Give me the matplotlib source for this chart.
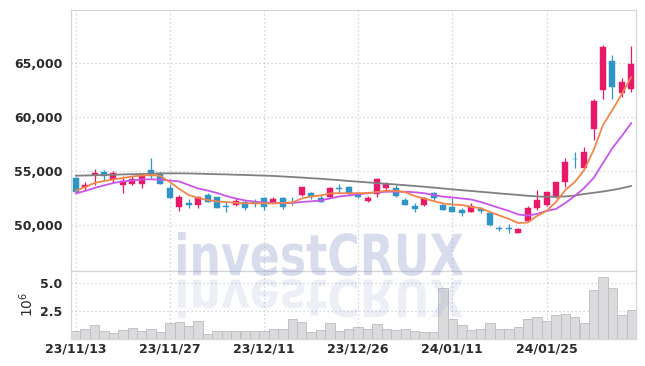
import matplotlib
matplotlib.use('Agg')
import matplotlib.pyplot as plt
import numpy as np
from matplotlib.textpath import TextPath
from matplotlib.patches import PathPatch
from matplotlib.font_manager import FontProperties
from matplotlib.transforms import Affine2D
from matplotlib.ticker import FuncFormatter, FixedLocator

# ---------------- data ----------------
tick_idx = [0, 10, 20, 30, 40, 50]
tick_labels = ['23/11/13', '23/11/27', '23/12/11', '23/12/26', '24/01/11', '24/01/25']

opens = [54360, 53520, 54600, 54870, 54260, 53660, 53820, 53770, 55120, 54840,
         53400, 51690, 52040, 51850, 52780, 52590, 51760, 51850, 52160, 52130,
         52470, 52160, 52470, 52160, 52780, 52930, 52470, 52620, 53400, 53550,
         53000, 52220, 52840, 53450, 53400, 52310, 51790, 51850, 52930, 51850,
         51690, 51390, 51170, 51450, 51080, 49700, 49700, 49260, 50370, 51570,
         51850, 52620, 54010, 56140, 55250, 58860, 62500, 65160, 62250, 62590]
highs = [54400, 53950, 55160, 55060, 55030, 54560, 54510, 54750, 56230, 54900,
         53770, 52780, 52410, 52720, 53000, 52620, 52160, 52530, 52290, 52410,
         52620, 52620, 52620, 52620, 53550, 53030, 52780, 53550, 53770, 53650,
         53090, 52720, 54330, 53950, 53700, 52530, 52010, 52620, 53030, 51900,
         52470, 51600, 52070, 51690, 51200, 49950, 50100, 49700, 51760, 53240,
         53050, 53980, 56180, 56790, 57190, 61640, 66670, 65740, 63580, 66570]
lows = [52980, 53270, 53700, 54070, 54010, 52960, 53700, 53450, 54330, 53820,
        52470, 51300, 51550, 51550, 52100, 51600, 51170, 51780, 51390, 51670,
        51390, 51990, 51480, 51850, 52720, 52380, 52100, 52530, 52930, 52800,
        52470, 52160, 52620, 53150, 52620, 51850, 51230, 51780, 52310, 51390,
        51170, 50830, 51170, 51080, 49930, 49400, 49250, 49260, 50300, 51390,
        51760, 52470, 53550, 55250, 55250, 57870, 61640, 61640, 61820, 62290]
closes = [53020, 53730, 54810, 54510, 54840, 54100, 54260, 54630, 54540, 53820,
          52530, 52590, 51850, 52590, 52100, 51600, 51640, 52220, 51550, 51940,
          51690, 52380, 51640, 52060, 53490, 52560, 52160, 53400, 53300, 52930,
          52590, 52530, 54260, 53770, 52710, 51850, 51450, 52470, 52530, 51390,
          51170, 51140, 51760, 51320, 50000, 49630, 49630, 49630, 51570, 52310,
          53050, 54010, 55830, 56080, 56760, 61480, 66510, 62810, 63240, 64910]

ma5 = [53150, 53520, 53890, 54070, 54210, 54350, 54490, 54580, 54630, 54540,
       53980, 53330, 52780, 52500, 52310, 52180, 52130, 52040, 52010, 52010,
       52010, 51990, 52040, 52080, 52450, 52640, 52730, 52920, 52940, 52940,
       52940, 52960, 53050, 53170, 53170, 53030, 52680, 52450, 52220, 51990,
       51900, 51850, 51670, 51550, 51200, 50880, 50560, 50180, 50230, 50830,
       51300, 52130, 53240, 53980, 55090, 56940, 59260, 60650, 62130, 63700]
ma10 = [52920, 53150, 53430, 53660, 53890, 54030, 54120, 54210, 54230, 54190,
        54120, 54030, 53700, 53380, 53190, 52960, 52680, 52450, 52270, 52160,
        52080, 52040, 52010, 52040, 52130, 52190, 52270, 52450, 52640, 52730,
        52840, 52940, 53010, 53080, 53080, 53080, 53030, 52940, 52780, 52620,
        52550, 52450, 52360, 52130, 51850, 51570, 51300, 50970, 50880, 51020,
        51300, 51480, 52040, 52680, 53430, 54350, 55740, 57130, 58240, 59440]
ma60 = [54560, 54580, 54600, 54630, 54650, 54680, 54700, 54720, 54750, 54770,
        54780, 54780, 54770, 54750, 54720, 54700, 54680, 54650, 54630, 54600,
        54570, 54540, 54490, 54440, 54390, 54330, 54280, 54210, 54150, 54070,
        54010, 53940, 53880, 53810, 53750, 53680, 53610, 53540, 53460, 53380,
        53300, 53220, 53150, 53070, 53000, 52920, 52850, 52780, 52700, 52640,
        52610, 52610, 52640, 52730, 52870, 52980, 53100, 53240, 53410, 53610]

volume_m = [0.64, 0.82, 1.18, 0.64, 0.52, 0.73, 0.97, 0.64, 0.88, 0.55,
            1.36, 1.45, 1.09, 1.55, 0.45, 0.64, 0.70, 0.70, 0.70, 0.64,
            0.64, 0.88, 0.88, 1.79, 1.45, 0.55, 0.73, 1.36, 0.70, 0.82,
            1.06, 0.82, 1.27, 0.82, 0.73, 0.82, 0.64, 0.55, 0.55, 4.60,
            1.73, 1.18, 0.73, 0.82, 1.36, 0.88, 0.88, 1.06, 1.79, 1.91,
            1.55, 2.09, 2.18, 1.91, 1.36, 4.36, 5.55, 4.60, 2.09, 2.55]

price_ticks = [50000, 55000, 60000, 65000]
volume_ticks = [2.5, 5.0]

# ---------------- style ----------------
UP = '#e8196a'
DOWN = '#2e95c6'
GRID = '#c6c9da'
SPINE = '#d6d6da'
TXT = '#2a2a2a'
tick_font = FontProperties(family=['Liberation Sans Narrow', 'DejaVu Sans'], weight='bold', size=9)

W, H = 645, 366
fig = plt.figure(figsize=(W / 100, H / 100), dpi=100)
fig.patch.set_facecolor('white')

L, R = 71, 636
ax = fig.add_axes([L / W, 1 - 271 / H, (R - L) / W, 261 / H])
axv = fig.add_axes([L / W, 1 - 338.5 / H, (R - L) / W, 67.5 / H], sharex=ax)

x = np.arange(len(closes))
o = np.array(opens, float)
c = np.array(closes, float)
hi = np.array(highs, float)
lo = np.array(lows, float)
up = c >= o
cols = np.where(up, UP, DOWN)
body_bottom = np.minimum(o, c)
body_h = np.maximum(np.abs(c - o), 45)

ax.vlines(x, lo, hi, colors=cols, linewidth=0.9, zorder=3)
ax.bar(x, body_h, bottom=body_bottom, width=0.64, color=cols, edgecolor=cols,
       linewidth=0.3, zorder=3)

ax.plot(x, ma60, color='#808080', lw=1.3, zorder=4, solid_capstyle='round')
ax.plot(x, ma10, color='#c955ea', lw=1.3, zorder=4, solid_capstyle='round')
ax.plot(x, ma5, color='#f0864b', lw=1.3, zorder=4, solid_capstyle='round')

ax.set_xlim(-0.5, len(x) - 0.5)
ax.set_ylim(45740, 69900)
ax.yaxis.set_major_locator(FixedLocator(price_ticks))
ax.yaxis.set_major_formatter(FuncFormatter(lambda v, p: f'{v:,.0f}'))
ax.xaxis.set_major_locator(FixedLocator(tick_idx))

axv.bar(x, volume_m, width=1.0, color='#dbdbdd', edgecolor='#bcbcc0', linewidth=0.6, zorder=2)
axv.set_ylim(0, 6.1)
axv.yaxis.set_major_locator(FixedLocator(volume_ticks))
axv.yaxis.set_major_formatter(FuncFormatter(lambda v, p: f'{v:.1f}'))
axv.set_xticks(tick_idx)
axv.set_xticklabels(tick_labels)
axv.set_ylabel(r'$10^6$', fontsize=10, color=TXT, labelpad=3)

for a in (ax, axv):
    a.set_facecolor('white')
    a.grid(True, color=GRID, linestyle=(0, (1, 2.2)), linewidth=0.9, zorder=0)
    a.set_axisbelow(True)
    for s in a.spines.values():
        s.set_color(SPINE)
        s.set_linewidth(0.9)
    a.tick_params(length=0, colors=TXT, pad=6)
    for lab in a.get_yticklabels() + a.get_xticklabels():
        lab.set_fontproperties(tick_font)
ax.tick_params(labelbottom=False)
axv.tick_params(axis='x', pad=3)

# ---------------- watermark ----------------
wm_prop = FontProperties(family='DejaVu Sans', weight='bold')
tp = TextPath((0, 0), 'investCRUX', prop=wm_prop, size=1)
ext = tp.get_extents()
x0p, x1p = 178, 463
base_px, top_px = H - 276, H - 232
sx = (x1p - x0p) / ext.width
sy = (top_px - base_px) / ext.height
main_tr = Affine2D().translate(-ext.x0, -ext.y0).scale(sx / W, sy / H).translate(x0p / W, base_px / H)
fig.add_artist(PathPatch(tp, transform=main_tr + fig.transFigure, facecolor='#8190c8',
                         edgecolor='none', alpha=0.30, zorder=6))
refl_tr = Affine2D().translate(-ext.x0, -ext.y0).scale(sx / W, -0.9 * sy / H).translate(x0p / W, (base_px - 3) / H)
fig.add_artist(PathPatch(tp, transform=refl_tr + fig.transFigure, facecolor='#8190c8',
                         edgecolor='none', alpha=0.14, zorder=6))

fig.savefig('out.png', dpi=100, facecolor='white')
